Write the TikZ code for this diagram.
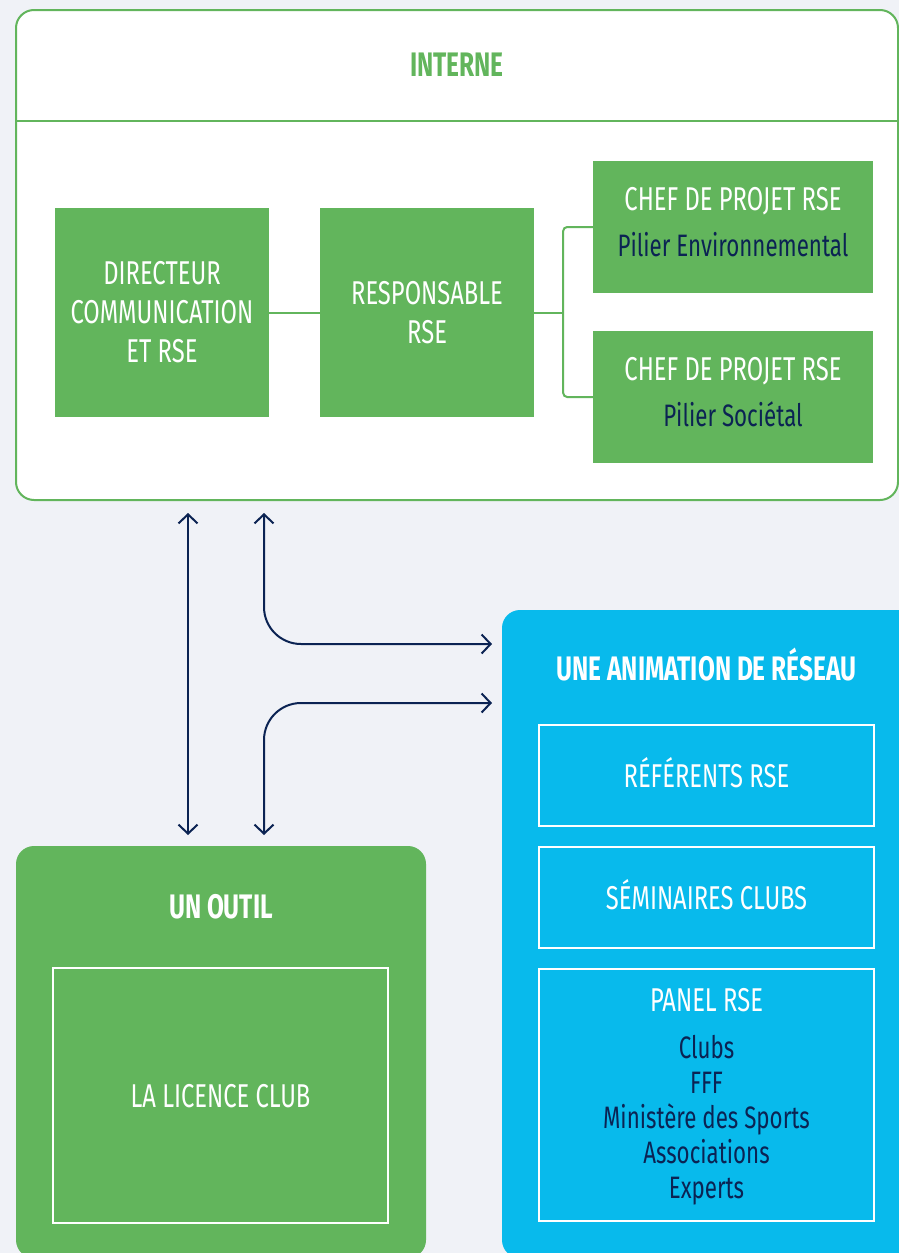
\documentclass[tikz,border=0pt]{standalone}
\usepackage{fontspec}
\setmainfont{Fira Sans}[FakeStretch=0.72]
\usetikzlibrary{arrows.meta,positioning}
\definecolor{rsegreen}{HTML}{62B55C}
\definecolor{rseblue}{HTML}{08BAEC}
\definecolor{rsenavy}{HTML}{0B2353}
\definecolor{rseback}{HTML}{F0F2F7}
\newcommand\sublines[1]{{\color{rsenavy}\fontsize{31}{35}\selectfont\begin{tabular}[t]{@{}c@{}}#1\end{tabular}}}

\begin{document}
\begin{tikzpicture}[x=1pt,y=-1pt]
		\useasboundingbox (0,0) rectangle (899,1253);
		\fill[rseback] (0,0) rectangle (899,1253);
		\begin{scope}
            [
                every node/.style={inner sep=0pt, align=center},
                frame/.style={rounded corners=18pt},
                block/.style={fill=rsegreen, text=white, font=\fontsize{33}{39}\selectfont},
                subblock/.style={draw=white, line width=1.5pt, text=white, font=\fontsize{33}{39}\selectfont},
                oneline/.style={text height=23pt, text depth=0pt},
                heading/.style={font=\bfseries\fontsize{34}{40}\selectfont}
            ]

			\node(interne)[frame, draw=rsegreen, line width=2pt, fill=white, minimum width=882pt, minimum height=490pt] at (457,255) {};
			\draw[rsegreen, line width=2pt] ([yshift=-112pt]interne.north west) -- ([yshift=-112pt]interne.north east);
			\node(tinterne)[heading, text=rsegreen] at (457,65) {INTERNE};

			\node(dir)[block, minimum width=214pt, minimum height=209pt] at (162,312.5) {DIRECTEUR\\COMMUNICATION\\ET RSE};
			\node(resp)[block, minimum width=214pt, minimum height=209pt] at (427,312.5) {RESPONSABLE\\RSE};
			\node(chefa)[block, minimum width=280pt, minimum height=132pt] at (733,227) {CHEF DE PROJET RSE\\[7pt]\sublines{Pilier Environnemental}};
			\node(chefb)[block, minimum width=280pt, minimum height=132pt] at (733,397) {CHEF DE PROJET RSE\\[7pt]\sublines{Pilier Sociétal}};

			\node(outil)[frame, fill=rsegreen, minimum width=410pt, minimum height=412pt] at (221,1052) {};
			\node(toutil)[heading, text=white] at (221,907) {UN OUTIL};
			\node(licence)[subblock, oneline, minimum width=335pt, minimum height=255pt] at (220.5,1095.5) {LA LICENCE CLUB};

			\node(reseau)[frame, fill=rseblue, minimum width=428pt, minimum height=648pt] at (716,934) {};
			\node(treseau)[heading, text=white] at (706.5,665) {UNE ANIMATION DE RÉSEAU};
			\node(referents)[subblock, oneline, minimum width=335pt, minimum height=101pt] at (706.5,775.5) {RÉFÉRENTS RSE};
			\node(seminaires)[subblock, oneline, minimum width=335pt, minimum height=101pt] at (706.5,897.5) {SÉMINAIRES CLUBS};
			\node(panel)[subblock, minimum width=335pt, minimum height=252pt] at (706.5,1095) {};
			\node(panellist)[text=white, font=\fontsize{33}{39}\selectfont] at (706.5,1099) {PANEL RSE\\[8pt]\sublines{Clubs\\FFF\\Ministère des Sports\\Associations\\Experts}};

		\end{scope}
		\begin{scope}
            [
                link/.style={draw=rsegreen, line width=2pt},
                flow/.style={draw=rsenavy, line width=2pt, {Straight Barb[length=9pt,width=19pt]}-{Straight Barb[length=9pt,width=19pt]}}
            ]
            \draw[link] (dir) -- (resp);
            \draw[link] (resp.east) -- ++(29,0) coordinate(fork);
            \draw[link, rounded corners=4pt] (chefa.west) -| (fork) |- (chefb.west);

            \coordinate (u1) at (188,513);
            \coordinate (d1) at (188,835);
            \coordinate (u2) at (264,513);
            \coordinate (d2) at (264,835);
            \coordinate (r1) at (492,644);
            \coordinate (r2) at (492,703);
            \draw[flow] (u1) -- (d1);
            \draw[flow, rounded corners=37pt] (u2) |- (r1);
            \draw[flow, rounded corners=37pt] (d2) |- (r2);
		\end{scope}
    \end{tikzpicture}
\end{document}
